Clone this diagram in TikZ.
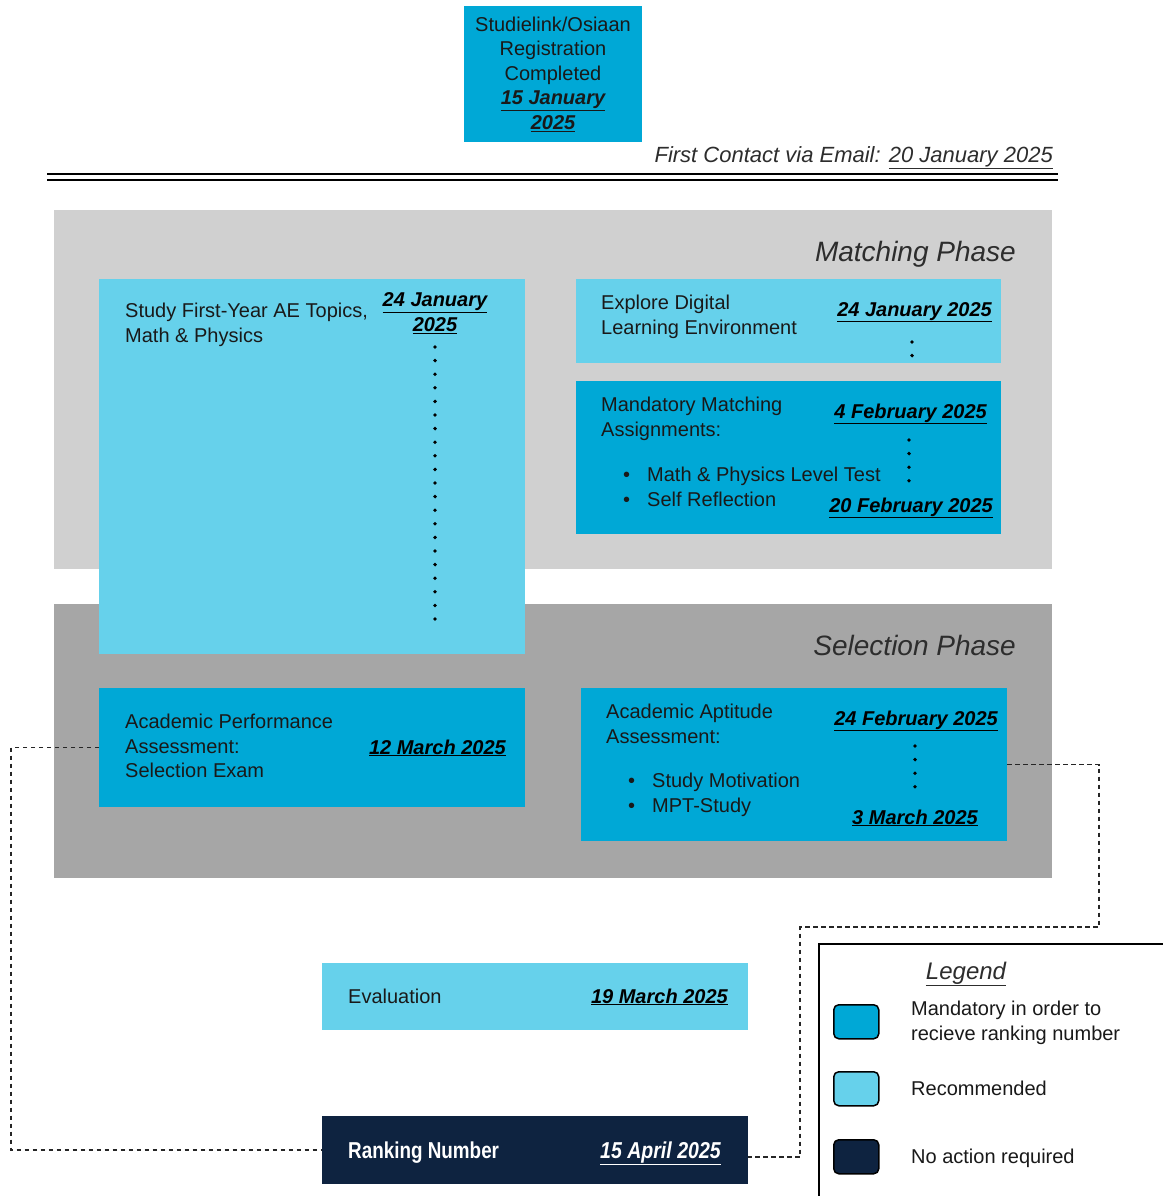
\documentclass[tikz,border=0pt]{standalone}
\usepackage{fontspec}
\setmainfont{Liberation Sans}
\definecolor{mand}{RGB}{0,168,214}
\definecolor{reco}{RGB}{102,209,235}
\definecolor{navy}{RGB}{14,35,64}
\definecolor{gA}{RGB}{208,208,208}
\definecolor{gB}{RGB}{166,166,166}
\definecolor{txt}{RGB}{25,25,25}
\definecolor{ttl}{RGB}{45,45,45}
\tikzset{
  box/.style={anchor=north west, inner sep=0pt, outer sep=0pt},
  mbox/.style={box, fill=mand},
  rbox/.style={box, fill=reco},
  lbl/.style={inner sep=0pt, text=txt, font=\fontsize{20}{24.5}\selectfont, align=left},
  dt/.style={inner sep=0pt, text=black, font=\fontsize{20}{25}\selectfont\bfseries\itshape, align=center},
  dotline/.style={line width=3.8pt, line cap=round, dash pattern=on 0pt off 13.6pt},
  conn/.style={draw=black!85, line width=1.6pt, dash pattern=on 4.5pt off 3.5pt},
  swatch/.style={anchor=north west, draw=black, line width=1.5pt, rounded corners=5pt, minimum width=45pt, minimum height=34pt, inner sep=0pt},
}
\newcommand{\bl}{\makebox[24pt][l]{\textbullet}}
\begin{document}
\begin{tikzpicture}[x=1pt,y=-1pt]
\useasboundingbox (0,0) rectangle (1162,1196);
\fill[white] (0,0) rectangle (1162,1196);

% top registration box
\node[mbox, minimum width=178pt, minimum height=136pt] (reg) at (464,6) {};
\node[lbl, align=center, font=\fontsize{20}{24.5}\selectfont] (regt) at (reg.center) {Studielink/Osiaan\\Registration\\Completed\\{\bfseries\itshape\underline{15 January}}\\{\bfseries\itshape\underline{2025}}};

\node[inner sep=0pt, anchor=base east, text=ttl, font=\fontsize{22}{26}\selectfont\itshape] (first) at (1053,162) {First Contact via Email: \underline{20 January 2025}};
\draw[line width=1.5pt] (47,174) -- (1058,174);
\draw[line width=1.5pt] (47,180) -- (1058,180);

% phases
\node[box, fill=gA, minimum width=998pt, minimum height=359pt] (match) at (54,210) {};
\node[box, fill=gB, minimum width=998pt, minimum height=274pt] (sel) at (54,604) {};
\node[inner sep=0pt, anchor=base east, text=ttl, font=\fontsize{28}{32}\selectfont\itshape] (matcht) at (1016,261) {Matching Phase};
\node[inner sep=0pt, anchor=base east, text=ttl, font=\fontsize{28}{32}\selectfont\itshape] (selt) at (1016,655) {Selection Phase};

% study box
\node[rbox, minimum width=426pt, minimum height=375pt] (study) at (99,279) {};
\node[lbl, anchor=north west] (studyt) at (125,303) {Study First-Year AE Topics,\\Math \& Physics};
\node[dt] (studyd) at (435,313) {\underline{24 January}\\\underline{2025}};
\draw[dotline] (435,347) -- (435,620);

% explore box
\node[rbox, minimum width=425pt, minimum height=84pt] (explore) at (576,279) {};
\node[lbl, anchor=north west] (exploret) at (601,295) {Explore Digital\\Learning Environment};
\node[dt, anchor=base east] (exploredt) at (992,316) {\underline{24 January 2025}};
\draw[dotline] (912,342) -- (912,356);

% mandatory matching box
\node[mbox, minimum width=425pt, minimum height=153pt] (mandm) at (576,381) {};
\node[lbl, anchor=north west] (mandmt) at (601,397) {Mandatory Matching\\Assignments:};
\node[lbl, anchor=north west] (mandmb) at (623,467) {\bl Math \& Physics Level Test\\\bl Self Reflection};
\node[dt, anchor=base east] (mandmd1) at (987,418) {\underline{4 February 2025}};
\node[dt, anchor=base east] (mandmd2) at (993,512) {\underline{20 February 2025}};
\draw[dotline] (909,440) -- (909,482);

% academic performance
\node[mbox, minimum width=426pt, minimum height=119pt] (perf) at (99,688) {};
\node[lbl, anchor=north west] (perft) at (125,714) {Academic Performance\\Assessment:\\Selection Exam};
\node[dt, anchor=base east] (perfd) at (506,754) {\underline{12 March 2025}};

% academic aptitude
\node[mbox, minimum width=426pt, minimum height=153pt] (apt) at (581,688) {};
\node[lbl, anchor=north west] (aptt) at (606,704) {Academic Aptitude\\Assessment:};
\node[lbl, anchor=north west] (aptb) at (628,773) {\bl Study Motivation\\\bl MPT-Study};
\node[dt, anchor=base east] (aptd1) at (998,725) {\underline{24 February 2025}};
\node[dt, anchor=base] (aptd2) at (915,824) {\underline{3 March 2025}};
\draw[dotline] (915,746) -- (915,788);

% evaluation
\node[rbox, minimum width=426pt, minimum height=67pt] (eval) at (322,963) {};
\node[lbl, anchor=base west] (evalt) at (348,1003) {Evaluation};
\node[dt, anchor=base east] (evald) at (728,1003) {\underline{19 March 2025}};

% ranking
\node[box, fill=navy, minimum width=426pt, minimum height=68pt] (rank) at (322,1116) {};
\node[inner sep=0pt, anchor=base west, text=white] (rankt) at (348,1158) {\scalebox{0.82}[1]{\fontsize{23}{26}\selectfont\bfseries Ranking Number}};
\node[inner sep=0pt, anchor=base east, text=white] (rankd) at (721,1158) {\scalebox{0.85}[1]{\fontsize{23}{26}\selectfont\bfseries\itshape\underline{15 April 2025}}};

% connectors
\coordinate (cl1) at (11,747.5);
\draw[conn] (perf.west) -- (cl1) |- (rank.west);
\coordinate (cr1) at (1099,764.5);
\coordinate (cr2) at (1099,927);
\coordinate (cr3) at (800,927);
\coordinate (rankr) at (748,1157);
\draw[conn] (apt.east) -- (cr1) -- (cr2) -- (cr3) |- (rankr);

% legend
\draw[line width=1.5pt] (1163,944) -- (819,944) -- (819,1197);
\node[inner sep=0pt, anchor=base, text=ttl, font=\fontsize{24}{28}\selectfont\itshape] (legt) at (966,979) {\underline{Legend}};
\node[swatch, fill=mand] (sw1) at (833,1004) {};
\node[swatch, fill=reco] (sw2) at (833,1071) {};
\node[swatch, fill=navy] (sw3) at (833,1139) {};
\node[lbl, anchor=north west] (lg1) at (911,1001) {Mandatory in order to\\recieve ranking number};
\node[lbl, anchor=base west] (lg2) at (911,1095) {Recommended};
\node[lbl, anchor=base west] (lg3) at (911,1163) {No action required};
\end{tikzpicture}
\end{document}
